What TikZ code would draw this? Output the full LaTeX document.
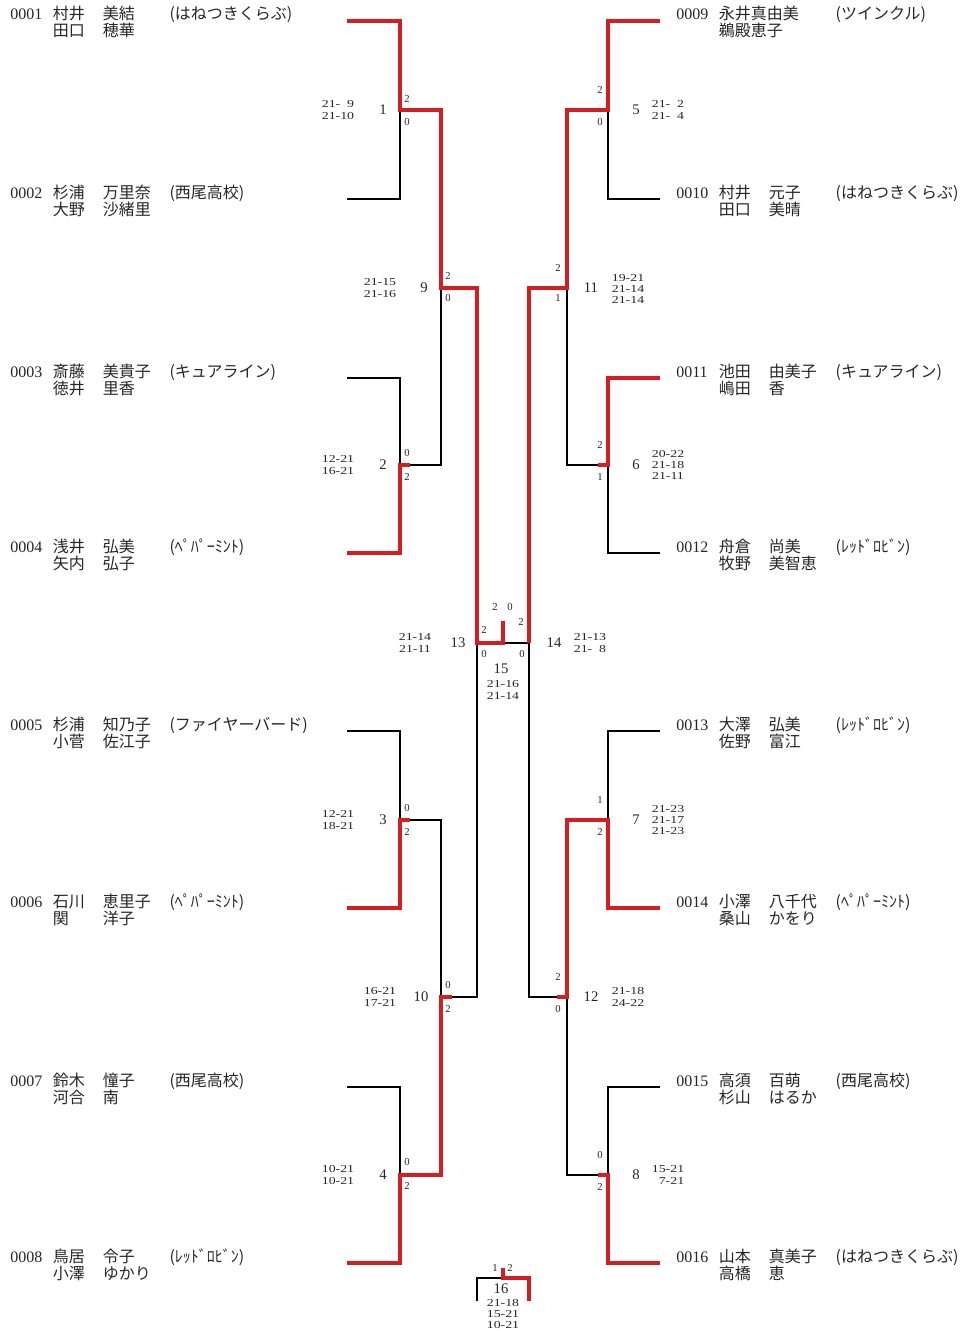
\documentclass[tikz,border=0pt]{standalone}
\usepackage{fontspec}
\setmainfont{Liberation Serif}
\newfontfamily\jp{Noto Sans CJK JP}
\newfontfamily\scorefont[FakeStretch=1.3]{Liberation Serif}
\usetikzlibrary{positioning}
\definecolor{winred}{RGB}{212,30,34}
\tikzset{win/.style = {draw=winred, line width=3.2pt, line join=miter}}
\tikzset{lose/.style = {draw=black, line width=1.1pt}}
\tikzset{player/.style = {anchor=base west, inner sep=0, text=black!85, font=\fontsize{12}{12}\selectfont}}
\tikzset{games/.style = {inner sep=0, align=center, text=black!85, font=\scorefont\fontsize{8}{8.5}\selectfont}}
\tikzset{sets/.style = {inner sep=0, text=black!85, font=\fontsize{8}{8}\selectfont}}
\tikzset{mno/.style = {inner sep=0, text=black!85, font=\fontsize{11}{11}\selectfont}}
\newcommand{\plrow}[4]{\makebox[32pt][l]{#1}\makebox[37.5pt][l]{\jp #2}\makebox[50pt][l]{\jp #3}{\jp #4}}
\newcommand{\entry}[9]{%
  \node[player] (#1a) at (#2,#3) {\plrow{#4}{#5}{#6}{#7}};
  \node[player] (#1b) at (#2,#3+17) {\plrow{}{#8}{#9}{}};}

\begin{document}
\begin{tikzpicture}[x=0.75pt, y=-0.75pt]
  \useasboundingbox (0,0) rectangle (960,1331);

  % players
  \entry{p1}{10}{20}{0001}{村井}{美結}{(はねつきくらぶ)}{田口}{穂華}
  \entry{p2}{10}{198}{0002}{杉浦}{万里奈}{(西尾高校)}{大野}{沙緒里}
  \entry{p3}{10}{377}{0003}{斎藤}{美貴子}{(キュアライン)}{徳井}{里香}
  \entry{p4}{10}{552}{0004}{浅井}{弘美}{(ﾍﾟﾊﾟｰﾐﾝﾄ)}{矢内}{弘子}
  \entry{p5}{10}{730}{0005}{杉浦}{知乃子}{(ファイヤーバード)}{小菅}{佐江子}
  \entry{p6}{10}{907}{0006}{石川}{恵里子}{(ﾍﾟﾊﾟｰﾐﾝﾄ)}{関}{洋子}
  \entry{p7}{10}{1086}{0007}{鈴木}{憧子}{(西尾高校)}{河合}{南}
  \entry{p8}{10}{1262}{0008}{鳥居}{令子}{(ﾚｯﾄﾞﾛﾋﾞﾝ)}{小澤}{ゆかり}
  \entry{p9}{676}{20}{0009}{永井真由美}{}{(ツインクル)}{鵜殿恵子}{}
  \entry{p10}{676}{198}{0010}{村井}{元子}{(はねつきくらぶ)}{田口}{美晴}
  \entry{p11}{676}{377}{0011}{池田}{由美子}{(キュアライン)}{嶋田}{香}
  \entry{p12}{676}{552}{0012}{舟倉}{尚美}{(ﾚｯﾄﾞﾛﾋﾞﾝ)}{牧野}{美智恵}
  \entry{p13}{676}{730}{0013}{大澤}{弘美}{(ﾚｯﾄﾞﾛﾋﾞﾝ)}{佐野}{富江}
  \entry{p14}{676}{907}{0014}{小澤}{八千代}{(ﾍﾟﾊﾟｰﾐﾝﾄ)}{桑山}{かをり}
  \entry{p15}{676}{1086}{0015}{高須}{百萌}{(西尾高校)}{杉山}{はるか}
  \entry{p16}{676}{1262}{0016}{山本}{真美子}{(はねつきくらぶ)}{高橋}{恵}

  % line ends and junctions
  \coordinate (e1) at (347,21);
  \coordinate (e2) at (347,199);
  \coordinate (e3) at (347,378);
  \coordinate (e4) at (347,553);
  \coordinate (e5) at (347,731);
  \coordinate (e6) at (347,908);
  \coordinate (e7) at (347,1087);
  \coordinate (e8) at (347,1263);
  \coordinate (e9) at (660,21);
  \coordinate (e10) at (660,199);
  \coordinate (e11) at (660,378);
  \coordinate (e12) at (660,553);
  \coordinate (e13) at (660,731);
  \coordinate (e14) at (660,908);
  \coordinate (e15) at (660,1087);
  \coordinate (e16) at (660,1263);
  \coordinate (m1) at (400,110);
  \coordinate (m2) at (400,465);
  \coordinate (m3) at (400,820);
  \coordinate (m4) at (400,1175);
  \coordinate (m5) at (608,110);
  \coordinate (m6) at (608,465);
  \coordinate (m7) at (608,820);
  \coordinate (m8) at (608,1175);
  \coordinate (m9) at (441,288);
  \coordinate (m10) at (441,997);
  \coordinate (m11) at (567,288);
  \coordinate (m12) at (567,997);
  \coordinate (m13) at (477,643);
  \coordinate (m14) at (529,643);
  \coordinate (m15) at (503,643);
  \coordinate (m15top) at (503,621);
  \coordinate (m16) at (503,1278);
  \coordinate (m16top) at (503,1268);
  \coordinate (t1) at (477,1301);
  \coordinate (t2) at (529,1301);

  % losers
  \draw[lose] (e2) -| (m1);
  \draw[lose] (e3) -| (m2) -| (m9);
  \draw[lose] (e5) -| (m3) -| (m10) -| (m13);
  \draw[lose] (e7) -| (m4);
  \draw[lose] (m15) -- (m14);
  \draw[lose] (e10) -| (m5);
  \draw[lose] (e12) -| (m6) -| (m11);
  \draw[lose] (e13) -| (m7);
  \draw[lose] (e15) -| (m8) -| (m12) -| (m14);
  \draw[lose] (t1) |- (m16);

  % winners
  \draw[win] (e1) -| (m1) -| (m9) -| (m13) -- (m15) -- (m15top);
  \draw[win] (e4) -| (m2) -- ++(10,0);
  \draw[win] (e6) -| (m3) -- ++(10,0);
  \draw[win] (e8) -| (m4) -| (m10) -- ++(11,0);
  \draw[win] (e9) -| (m5) -| (m11) -| (m14);
  \draw[win] (e11) -| (m6) -- ++(-10,0);
  \draw[win] (e14) -| (m7) -| (m12) -- ++(-10,0);
  \draw[win] (e16) -| (m8) -- ++(-10,0);
  \draw[win] (m16top) -- (m16) -| (t2);

  % match numbers, games and sets
  \node[mno] (n1) at (383,110) {1};
  \node[games] (g1) at (338,110) {21-\hphantom{0}9\\21-10};
  \node[sets] (s1a) at (407,99) {2};
  \node[sets] (s1b) at (407,122) {0};
  \node[mno] (n2) at (383,465) {2};
  \node[games] (g2) at (338,465) {12-21\\16-21};
  \node[sets] (s2a) at (407,453) {0};
  \node[sets] (s2b) at (407,477) {2};
  \node[mno] (n3) at (383,820) {3};
  \node[games] (g3) at (338,820) {12-21\\18-21};
  \node[sets] (s3a) at (407,808) {0};
  \node[sets] (s3b) at (407,832) {2};
  \node[mno] (n4) at (383,1175) {4};
  \node[games] (g4) at (338,1175) {10-21\\10-21};
  \node[sets] (s4a) at (407,1162) {0};
  \node[sets] (s4b) at (407,1186) {2};
  \node[mno] (n9) at (424,288) {9};
  \node[games] (g9) at (380,288) {21-15\\21-16};
  \node[sets] (s9a) at (448,276) {2};
  \node[sets] (s9b) at (448,298) {0};
  \node[mno] (n10) at (421,997) {10};
  \node[games] (g10) at (380,997) {16-21\\17-21};
  \node[sets] (s10a) at (448,985) {0};
  \node[sets] (s10b) at (448,1009) {2};
  \node[mno] (n13) at (458,643) {13};
  \node[games] (g13) at (415,643) {21-14\\21-11};
  \node[sets] (s13a) at (484,630) {2};
  \node[sets] (s13b) at (484,654) {0};
  \node[mno] (n5) at (636,110) {5};
  \node[games] (g5) at (668,110) {21-\hphantom{0}2\\21-\hphantom{0}4};
  \node[sets] (s5a) at (600,90) {2};
  \node[sets] (s5b) at (600,122) {0};
  \node[mno] (n6) at (636,465) {6};
  \node[games] (g6) at (668,465) {20-22\\21-18\\21-11};
  \node[sets] (s6a) at (600,445) {2};
  \node[sets] (s6b) at (600,477) {1};
  \node[mno] (n7) at (636,820) {7};
  \node[games] (g7) at (668,820) {21-23\\21-17\\21-23};
  \node[sets] (s7a) at (600,800) {1};
  \node[sets] (s7b) at (600,832) {2};
  \node[mno] (n8) at (636,1175) {8};
  \node[games] (g8) at (668,1175) {15-21\\\hphantom{1}7-21};
  \node[sets] (s8a) at (600,1155) {0};
  \node[sets] (s8b) at (600,1187) {2};
  \node[mno] (n11) at (591,288) {11};
  \node[games] (g11) at (628,289) {19-21\\21-14\\21-14};
  \node[sets] (s11a) at (558,268) {2};
  \node[sets] (s11b) at (558,298) {1};
  \node[mno] (n12) at (591,997) {12};
  \node[games] (g12) at (628,997) {21-18\\24-22};
  \node[sets] (s12a) at (558,977) {2};
  \node[sets] (s12b) at (558,1009) {0};
  \node[mno] (n14) at (554,643) {14};
  \node[games] (g14) at (590,643) {21-13\\21-\hphantom{0}8};
  \node[sets] (s14a) at (521,622) {2};
  \node[sets] (s14b) at (522,654) {0};
  \node[sets] (s15a) at (495,607) {2};
  \node[sets] (s15b) at (510,607) {0};
  \node[mno] (n15) at (501,669) {15};
  \node[games] (g15) at (503,690) {21-16\\21-14};
  \node[sets] (s16a) at (495,1268) {1};
  \node[sets] (s16b) at (510,1268) {2};
  \node[mno] (n16) at (501,1289) {16};
  \node[games] (g16) at (503,1314) {21-18\\15-21\\10-21};
\end{tikzpicture}
\end{document}
